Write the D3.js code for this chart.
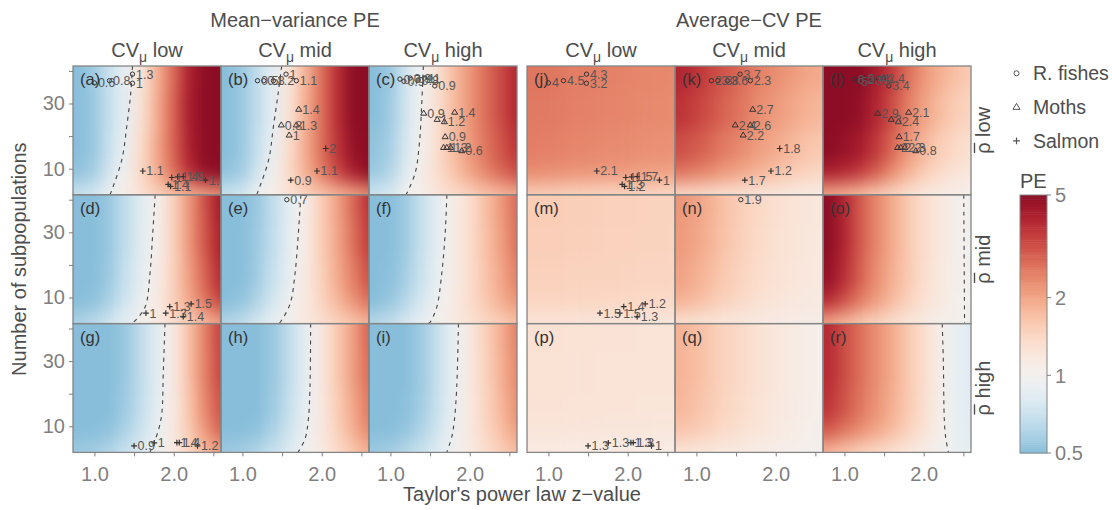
<!DOCTYPE html>
<html><head><meta charset="utf-8">
<script src="https://cdn.jsdelivr.net/npm/d3@7"></script>
<style>
body{margin:0;background:#fff;}
text{font-family:"Liberation Sans",Arial,Helvetica,sans-serif;}
</style>
</head><body>
<svg id="c" width="1112" height="510" xmlns="http://www.w3.org/2000/svg"></svg>
<script>
// ---------------- DATA ----------------
const zGrid = [0.8,1.0,1.2,1.4,1.6,1.8,2.0,2.2,2.4,2.6];   // Taylor's z (grid columns)
const nGrid = [40,28,16,8,3];                              // number of subpopulations (grid rows)
const methods = ["Mean\u2212variance PE","Average\u2212CV PE"];
const cvLevels = ["low","mid","high"];
const rhoLevels = ["low","mid","high"];
const letters = "abcdefghijklmnopqr".split("");
const xTicks = [1.0,1.5,2.0,2.5];
const xTickLabels = ["1.0","","2.0",""];
const yTicks = [10,20,30,40];
const yTickLabels = ["10","","30",""];
const peTicks = [0.5,1,2,5];

// PE (rows = nGrid, cols = zGrid)
const peA=[[0.5,0.56,0.72,0.88,1.25,1.9,2.8,4.2,5.5,6],[0.5,0.55,0.7,0.87,1.3,1.95,2.9,4.3,5.5,6],[0.5,0.55,0.72,0.92,1.38,2.0,2.9,4.2,5.5,6],[0.52,0.58,0.78,1.02,1.42,1.95,2.7,3.8,4.8,5.5],[0.7,0.76,0.95,1.1,1.3,1.5,1.7,1.9,2.1,2.3]];
const peB=[[0.5,0.55,0.68,0.87,1.25,1.85,2.7,3.8,5,6],[0.5,0.55,0.68,0.88,1.28,1.9,2.7,3.8,5,6],[0.5,0.55,0.7,0.93,1.36,1.95,2.7,3.7,4.8,5.5],[0.52,0.57,0.77,1.03,1.4,1.9,2.5,3.3,4.2,5],[0.7,0.76,0.95,1.1,1.28,1.45,1.65,1.85,2.05,2.3]];
const peC=[[0.5,0.55,0.75,0.98,1.3,1.75,2.2,2.7,3.3,4],[0.5,0.56,0.76,0.99,1.32,1.75,2.2,2.7,3.3,4],[0.52,0.58,0.79,1.03,1.35,1.75,2.15,2.6,3.1,3.7],[0.55,0.62,0.85,1.08,1.35,1.65,2.0,2.4,2.8,3.2],[0.72,0.78,0.97,1.1,1.23,1.36,1.5,1.65,1.8,1.95]];
const peD=[[0.5,0.5,0.55,0.68,0.85,1.05,1.5,2.2,3.2,4.5],[0.5,0.5,0.55,0.68,0.86,1.07,1.5,2.2,3.1,4.3],[0.5,0.5,0.56,0.7,0.88,1.1,1.5,2.1,2.9,4],[0.5,0.52,0.6,0.75,0.93,1.15,1.5,2.0,2.6,3.4],[0.6,0.65,0.75,0.88,1.02,1.18,1.35,1.55,1.8,2.1]];
const peE=[[0.5,0.5,0.55,0.68,0.87,1.1,1.55,2.05,2.8,3.8],[0.5,0.5,0.56,0.69,0.88,1.12,1.55,2.0,2.7,3.6],[0.5,0.5,0.57,0.71,0.9,1.15,1.5,1.95,2.5,3.2],[0.5,0.53,0.62,0.77,0.97,1.18,1.45,1.8,2.2,2.7],[0.62,0.67,0.77,0.9,1.05,1.18,1.32,1.48,1.65,1.85]];
const peF=[[0.5,0.5,0.56,0.7,0.88,1.08,1.35,1.7,2.15,2.8],[0.5,0.5,0.56,0.7,0.88,1.09,1.35,1.68,2.1,2.7],[0.5,0.51,0.58,0.72,0.9,1.11,1.35,1.65,2.0,2.5],[0.5,0.54,0.63,0.78,0.96,1.14,1.35,1.6,1.9,2.2],[0.63,0.68,0.78,0.9,1.03,1.15,1.28,1.42,1.55,1.7]];
const peG=[[0.5,0.5,0.5,0.55,0.68,0.86,1.15,1.7,2.5,3.5],[0.5,0.5,0.5,0.55,0.68,0.86,1.15,1.7,2.5,3.4],[0.5,0.5,0.5,0.56,0.69,0.87,1.15,1.65,2.4,3.2],[0.5,0.5,0.52,0.6,0.73,0.9,1.17,1.6,2.2,2.9],[0.55,0.57,0.62,0.7,0.82,0.97,1.18,1.45,1.75,2.1]];
const peH=[[0.5,0.5,0.5,0.55,0.68,0.88,1.18,1.6,2.1,2.9],[0.5,0.5,0.5,0.55,0.68,0.88,1.18,1.6,2.1,2.8],[0.5,0.5,0.5,0.56,0.7,0.89,1.18,1.55,2.0,2.6],[0.5,0.5,0.52,0.6,0.74,0.92,1.18,1.5,1.9,2.4],[0.55,0.57,0.62,0.7,0.82,0.98,1.16,1.38,1.62,1.9]];
const peI=[[0.5,0.5,0.5,0.56,0.7,0.9,1.17,1.5,1.9,2.5],[0.5,0.5,0.5,0.56,0.7,0.9,1.17,1.48,1.88,2.4],[0.5,0.5,0.51,0.57,0.71,0.91,1.17,1.45,1.8,2.3],[0.5,0.5,0.53,0.61,0.75,0.94,1.17,1.42,1.72,2.1],[0.55,0.57,0.63,0.71,0.83,0.99,1.15,1.33,1.52,1.75]];
const peJ=[[2.6,2.6,2.55,2.5,2.5,2.45,2.42,2.4,2.38,2.35],[2.55,2.55,2.5,2.47,2.44,2.42,2.4,2.36,2.35,2.32],[2.5,2.47,2.43,2.4,2.36,2.33,2.32,2.28,2.27,2.25],[2.3,2.27,2.23,2.2,2.16,2.13,2.12,2.08,2.05,2.04],[1.55,1.53,1.5,1.48,1.46,1.44,1.43,1.42,1.41,1.4]];
const peK=[[4.0,3.7,3.3,3.0,2.7,2.45,2.3,2.15,2.0,1.95],[3.7,3.4,3.1,2.8,2.55,2.3,2.15,2.0,1.85,1.8],[3.2,3.0,2.75,2.5,2.3,2.1,1.95,1.8,1.65,1.6],[2.6,2.45,2.3,2.1,1.95,1.8,1.68,1.55,1.45,1.4],[1.4,1.37,1.33,1.3,1.26,1.23,1.2,1.17,1.15,1.13]];
const peL=[[5.5,5.3,5.0,4.3,3.5,2.7,2.2,1.9,1.7,1.55],[5.4,5.1,4.8,4.0,3.2,2.5,2.05,1.75,1.55,1.45],[5.0,4.7,4.3,3.6,2.8,2.2,1.8,1.55,1.4,1.3],[4.2,3.9,3.5,2.9,2.3,1.85,1.55,1.38,1.25,1.2],[2.0,1.9,1.75,1.6,1.45,1.3,1.2,1.13,1.08,1.05]];
const peM=[[1.55,1.55,1.53,1.52,1.51,1.5,1.5,1.49,1.48,1.47],[1.53,1.53,1.52,1.51,1.5,1.49,1.49,1.48,1.47,1.46],[1.5,1.5,1.49,1.48,1.47,1.47,1.46,1.45,1.45,1.44],[1.45,1.45,1.44,1.43,1.43,1.42,1.41,1.41,1.4,1.4],[1.24,1.24,1.23,1.23,1.22,1.22,1.22,1.21,1.21,1.21]];
const peN=[[2.2,2.05,1.85,1.65,1.5,1.4,1.32,1.26,1.22,1.2],[2.15,2.0,1.82,1.63,1.48,1.38,1.3,1.25,1.21,1.19],[2.05,1.9,1.72,1.56,1.44,1.35,1.28,1.23,1.2,1.17],[1.85,1.72,1.58,1.46,1.37,1.3,1.24,1.2,1.17,1.15],[1.3,1.27,1.23,1.2,1.17,1.15,1.13,1.11,1.1,1.09]];
const peO=[[5.0,4.0,3.0,2.4,1.95,1.6,1.35,1.2,1.05,0.97],[5.0,4.0,3.0,2.4,1.95,1.6,1.35,1.2,1.05,0.97],[4.8,3.8,2.9,2.3,1.9,1.58,1.34,1.19,1.05,0.97],[3.8,3.1,2.5,2.1,1.75,1.5,1.3,1.17,1.04,0.98],[2.0,1.8,1.6,1.45,1.33,1.22,1.14,1.07,1.02,0.99]];
const peP=[[1.29,1.29,1.28,1.28,1.27,1.27,1.27,1.26,1.26,1.26],[1.28,1.28,1.27,1.27,1.26,1.26,1.26,1.25,1.25,1.25],[1.27,1.27,1.26,1.26,1.25,1.25,1.25,1.24,1.24,1.24],[1.24,1.24,1.23,1.23,1.23,1.22,1.22,1.22,1.21,1.21],[1.14,1.14,1.14,1.13,1.13,1.13,1.13,1.12,1.12,1.12]];
const peQ=[[1.85,1.72,1.58,1.45,1.36,1.28,1.2,1.14,1.09,1.05],[1.85,1.72,1.58,1.45,1.36,1.28,1.2,1.14,1.09,1.05],[1.8,1.68,1.55,1.43,1.34,1.26,1.19,1.13,1.08,1.04],[1.65,1.56,1.46,1.37,1.3,1.23,1.17,1.12,1.07,1.04],[1.25,1.22,1.19,1.16,1.13,1.1,1.08,1.06,1.04,1.02]];
const peR=[[3.9,3.2,2.7,2.3,1.95,1.6,1.35,1.08,0.9,0.82],[3.9,3.2,2.7,2.3,1.95,1.6,1.35,1.08,0.9,0.82],[3.7,3.1,2.6,2.25,1.9,1.58,1.33,1.07,0.9,0.82],[3.0,2.6,2.3,2.0,1.75,1.5,1.28,1.06,0.9,0.83],[1.8,1.65,1.5,1.4,1.3,1.2,1.1,1.0,0.92,0.87]];

// PE = 1 contour lines [z, n]
const contourA=[[1.48,41.5],[1.457,33],[1.407,22.8],[1.344,12.6],[1.197,2]];
const contourB=[[1.495,41.5],[1.45,33],[1.39,22.8],[1.33,12.6],[1.18,2]];
const contourC=[[1.415,41.5],[1.395,30],[1.365,17.7],[1.31,8.5],[1.197,2]];
const contourD=[[1.766,41.5],[1.735,29.6],[1.70,17.3],[1.638,7.0],[1.49,2.4],[1.46,2]];
const contourE=[[1.737,41.5],[1.705,29.6],[1.663,17.3],[1.60,8],[1.474,2.4],[1.45,2]];
const contourF=[[1.712,41.5],[1.69,29.6],[1.647,17.3],[1.584,7],[1.50,2.4],[1.48,2]];
const contourG=[[1.89,41.5],[1.869,27.1],[1.849,13.8],[1.806,8.7],[1.70,2]];
const contourH=[[1.86,41.5],[1.852,22],[1.83,11.8],[1.79,6.2],[1.70,2]];
const contourI=[[1.858,41.5],[1.836,22],[1.806,11.8],[1.773,6.7],[1.71,2]];
const contourO=[[2.505,41.5],[2.51,20],[2.515,2]];
const contourR=[[2.233,41.5],[2.247,30.1],[2.26,11.7],[2.277,6.6],[2.31,2]];

// observed datasets: [cvCol, rhoRow, z, n, mean-variance PE label, average-CV PE label]
const fishes=[
 [0,0,1.00,36.3,"0.6","4"],[0,0,1.19,37.0,"0.8","4.5"],[0,0,1.48,39.0,"1.3","4.3"],[0,0,1.48,36.2,"1","3.2"],
 [1,0,1.19,37.0,"0.5","2.3"],[1,0,1.27,37.0,"0.8","3.8"],[1,0,1.39,37.0,"1.2","3.6"],[1,0,1.55,39.0,"1","3.7"],[1,0,1.68,37.0,"1.1","2.3"],
 [2,0,1.12,37.5,"0.7","6.2"],[2,0,1.17,36.8,"0.9","5"],[2,0,1.25,37.8,"0.9","5.4"],[2,0,1.35,37.2,"0.8","3.9"],[2,0,1.43,37.8,"1","4"],[2,0,1.50,37.8,"1","2.4"],[2,0,1.56,35.4,"0.9","3.4"],
 [1,1,1.56,40.0,"0.7","1.9"]
];
const moths=[
 [1,0,1.71,28.2,"1.4","2.7"],[1,0,1.49,23.4,"0.8","2.4"],[1,0,1.68,23.4,"1.3","2.6"],[1,0,1.59,20.3,"1","2.2"],
 [2,0,1.42,27.0,"0.9","2.9"],[2,0,1.59,25.1,"1","3"],[2,0,1.68,24.4,"1.2","2.4"],[2,0,1.81,27.3,"1.4","2.1"],[2,0,1.69,19.8,"0.9","1.7"],
 [2,0,1.67,16.5,"1","2"],[2,0,1.71,16.5,"1.3","2.2"],[2,0,1.76,16.5,"1.2","2.3"],[2,0,1.90,15.5,"0.6","0.8"]
];
const salmon=[
 [0,0,1.61,9.3,"1.1","2.1"],[0,0,1.975,7.3,"1","1"],[0,0,2.05,7.5,"1.4","1.5"],[0,0,2.12,7.6,"1.9","1.7"],[0,0,2.40,6.5,"1.6","1"],[0,0,1.93,5.2,"1.4","1.3"],[0,0,1.96,4.6,"1.1","1.2"],
 [1,0,2.05,16.2,"2","1.8"],[1,0,1.94,9.3,"1.1","1.2"],[1,0,1.61,6.5,"0.9","1.7"],
 [0,1,1.65,5.2,"1","1.5"],[0,1,1.90,5.2,"1.3","1.5"],[0,1,1.95,7.2,"1.3","1.4"],[0,1,2.22,8.05,"1.5","1.2"],[0,1,2.12,4.15,"1.4","1.3"],
 [0,2,1.50,4.0,"0.9","1.3"],[0,2,1.755,4.9,"1","1.3"],[0,2,2.04,5.0,"1.4","1.3"],[0,2,2.07,5.0,"1.4","1.3"],[0,2,2.30,4.0,"1.2","1"]
];
const speciesNames=["R. fishes","Moths","Salmon"];

// ---------------- LAYOUT ----------------
const peGrids=[peA,peB,peC,peD,peE,peF,peG,peH,peI,peJ,peK,peL,peM,peN,peO,peP,peQ,peR];
const contours={a:contourA,b:contourB,c:contourC,d:contourD,e:contourE,f:contourF,g:contourG,h:contourH,i:contourI,o:contourO,r:contourR};
const species=[{pts:fishes,shape:"circle"},{pts:moths,shape:"triangle"},{pts:salmon,shape:"plus"}];

const W=148, H=128.8, TOP=66;
const groupX=[73,527];
const zDomain=[0.73,2.596], nDomain=[2,41.5];
const peScale=d3.scaleLog().domain([0.5,1,5]).range([0.29,0.5,0.95]).clamp(true);
const color=v=>d3.interpolateRdBu(1-peScale(v));
const titleCol="#4d4d4d", tickCol="#7f7f7f", borderCol="#858585";

const svg=d3.select("#c");
const defs=svg.append("defs");
const filt=defs.append("filter").attr("id","blur").attr("filterUnits","userSpaceOnUse")
  .attr("x",0).attr("y",0).attr("width",1112).attr("height",510)
  .attr("color-interpolation-filters","sRGB");
filt.append("feGaussianBlur").attr("stdDeviation","7 9");

const zEdges=zGrid.map((z,i)=>[i===0?zDomain[0]-0.4:(zGrid[i-1]+z)/2, i===zGrid.length-1?zDomain[1]+0.4:(z+zGrid[i+1])/2]);
const nEdges=nGrid.map((n,i)=>[i===0?nDomain[1]+12:(nGrid[i-1]+n)/2, i===nGrid.length-1?nDomain[0]-12:(n+nGrid[i+1])/2]);

function shape(g,type,cx,cy,s,stroke){
  if(type==="circle"){
    g.append("circle").attr("cx",cx).attr("cy",cy).attr("r",s*0.75).attr("fill","none").attr("stroke",stroke).attr("stroke-width",1);
  } else if(type==="triangle"){
    const h=s*1.1;
    g.append("path").attr("d",`M${cx},${cy-h}L${cx+h*0.95},${cy+h*0.6}L${cx-h*0.95},${cy+h*0.6}Z`)
      .attr("fill","none").attr("stroke",stroke).attr("stroke-width",1);
  } else {
    g.append("path").attr("d",`M${cx-s},${cy}H${cx+s}M${cx},${cy-s}V${cy+s}`)
      .attr("fill","none").attr("stroke",stroke).attr("stroke-width",1.2);
  }
}

const panels=[];
for(let m=0;m<2;m++) for(let r=0;r<3;r++) for(let c=0;c<3;c++){
  const k=m*9+r*3+c;
  const L=groupX[m]+c*W, T=TOP+r*H;
  const x=d3.scaleLinear().domain(zDomain).range([L,L+W]);
  const y=d3.scaleLinear().domain(nDomain).range([T+H,T]);
  panels.push({m,r,c,k,L,T,x,y});
  const clipId="clip"+k;
  defs.append("clipPath").attr("id",clipId).append("rect").attr("x",L).attr("y",T).attr("width",W).attr("height",H);
  const gc=svg.append("g").attr("clip-path",`url(#${clipId})`);
  const gh=gc.append("g").attr("filter","url(#blur)");
  const grid=peGrids[k];
  grid.forEach((row,ri)=>row.forEach((v,ci)=>{
    const x0=x(zEdges[ci][0]), x1=x(zEdges[ci][1]);
    const y0=y(nEdges[ri][0]), y1=y(nEdges[ri][1]);
    gh.append("rect").attr("x",x0).attr("y",y0).attr("width",x1-x0+0.6).attr("height",y1-y0+0.6).attr("fill",color(v));
  }));
  const cl=contours[letters[k]];
  if(cl){
    gc.append("path").datum(cl)
      .attr("d",d3.line().x(d=>x(d[0])).y(d=>y(d[1])).curve(d3.curveCatmullRom))
      .attr("fill","none").attr("stroke","#444").attr("stroke-width",1.1).attr("stroke-dasharray","4,4.5");
  }
  // points
  const labs=[];
  species.forEach(sp=>{
    sp.pts.filter(p=>p[0]===c && p[1]===r).forEach(p=>{
      shape(gc,sp.shape,x(p[2]),y(p[3]),2.9,"#333");
      labs.push([x(p[2]),y(p[3]),m===0?p[4]:p[5]]);
    });
  });
  labs.forEach(l=>{
    gc.append("text").attr("x",l[0]+3.5).attr("y",l[1]).attr("dy","0.36em")
      .attr("font-size",12.5).attr("fill","#555").text(l[2]);
  });
  // panel letter
  svg.append("text").attr("x",L+7).attr("y",T+19).attr("font-size",16.5).attr("fill","#333").text(`(${letters[k]})`);
}
// borders
panels.forEach(p=>{
  svg.append("rect").attr("x",p.L).attr("y",p.T).attr("width",W).attr("height",H)
    .attr("fill","none").attr("stroke",borderCol).attr("stroke-width",1.3);
});

// axes
panels.filter(p=>p.r===2).forEach(p=>{
  const ax=d3.axisBottom(p.x).tickValues(xTicks).tickFormat((d,i)=>xTickLabels[i]).tickSize(4).tickPadding(10);
  const g=svg.append("g").attr("transform",`translate(0,${p.T+H})`).call(ax);
  g.select(".domain").remove();
  g.selectAll(".tick line").attr("stroke",tickCol).attr("stroke-width",1);
  g.selectAll(".tick text").attr("fill",tickCol).attr("font-size",20).attr("font-family","Liberation Sans, Arial, sans-serif");
});
panels.filter(p=>p.m===0 && p.c===0).forEach(p=>{
  const ax=d3.axisLeft(p.y).tickValues(yTicks).tickFormat((d,i)=>yTickLabels[i]).tickSize(4).tickPadding(4);
  const g=svg.append("g").attr("transform",`translate(${p.L},0)`).call(ax);
  g.select(".domain").remove();
  g.selectAll(".tick line").attr("stroke",tickCol).attr("stroke-width",1);
  g.selectAll(".tick text").attr("fill",tickCol).attr("font-size",20).attr("font-family","Liberation Sans, Arial, sans-serif");
});

// titles
methods.forEach((t,m)=>{
  svg.append("text").attr("x",groupX[m]+1.5*W).attr("y",27).attr("text-anchor","middle")
    .attr("font-size",20).attr("fill",titleCol).text(t);
  cvLevels.forEach((lv,c)=>{
    const t2=svg.append("text").attr("x",groupX[m]+(c+0.5)*W).attr("y",56.5).attr("text-anchor","middle")
      .attr("font-size",20).attr("fill",titleCol);
    t2.append("tspan").text("CV");
    t2.append("tspan").attr("font-size",14).attr("dy",5).text("\u03bc");
    t2.append("tspan").attr("dy",-5).text(" "+lv);
  });
});
// right strip labels: rho with an overbar, read bottom to top
rhoLevels.forEach((lv,r)=>{
  const cy=TOP+(r+0.5)*H;
  const g=svg.append("g").attr("transform",`translate(990,${cy}) rotate(-90)`);
  const t=g.append("text").attr("text-anchor","middle").attr("font-size",20).attr("fill",titleCol).text("\u03c1 "+lv);
  const node=t.node();
  const len=node.getComputedTextLength();
  const rw=node.getSubStringLength(0,1);
  const x0=-len/2;
  g.append("line").attr("x1",x0+0.8).attr("x2",x0+rw-0.3).attr("y1",-15.5).attr("y2",-15.5)
    .attr("stroke",titleCol).attr("stroke-width",1.4);
});
svg.append("text").attr("x",(groupX[0]+groupX[1]+3*W)/2).attr("y",501).attr("text-anchor","middle")
  .attr("font-size",20).attr("fill",titleCol).text("Taylor's power law z\u2212value");
svg.append("text").attr("transform",`translate(26,${TOP+1.5*H}) rotate(-90)`).attr("text-anchor","middle")
  .attr("font-size",20).attr("fill",titleCol).text("Number of subpopulations");

// shape legend
species.forEach((sp,i)=>{
  const cy=73.3+i*33.8;
  shape(svg,sp.shape,1016.5,cy,3.4,"#555");
  svg.append("text").attr("x",1033).attr("y",cy).attr("dy","0.36em").attr("font-size",19.5).attr("fill",titleCol).text(speciesNames[i]);
});

// colour bar
const cb=d3.scaleLog().domain([0.5,5]).range([453,195]);
const cbVals=d3.range(0,121).map(i=>0.5*Math.pow(10,i/120));
cbVals.forEach((v,i)=>{
  if(i===cbVals.length-1) return;
  const y0=cb(cbVals[i+1]), y1=cb(v);
  svg.append("rect").attr("x",1020).attr("y",y0).attr("width",27).attr("height",y1-y0+0.5).attr("fill",color(Math.sqrt(v*cbVals[i+1])));
});
svg.append("rect").attr("x",1020).attr("y",195).attr("width",27).attr("height",258).attr("fill","none").attr("stroke",borderCol).attr("stroke-width",1);
peTicks.forEach(t=>{
  svg.append("line").attr("x1",1047).attr("x2",1051).attr("y1",cb(t)).attr("y2",cb(t)).attr("stroke",tickCol);
  svg.append("text").attr("x",1055).attr("y",cb(t)).attr("dy","0.36em").attr("font-size",20).attr("fill",tickCol).text(String(t));
});
svg.append("text").attr("x",1020).attr("y",188).attr("font-size",20).attr("fill",titleCol).text("PE");
</script>
</body></html>
